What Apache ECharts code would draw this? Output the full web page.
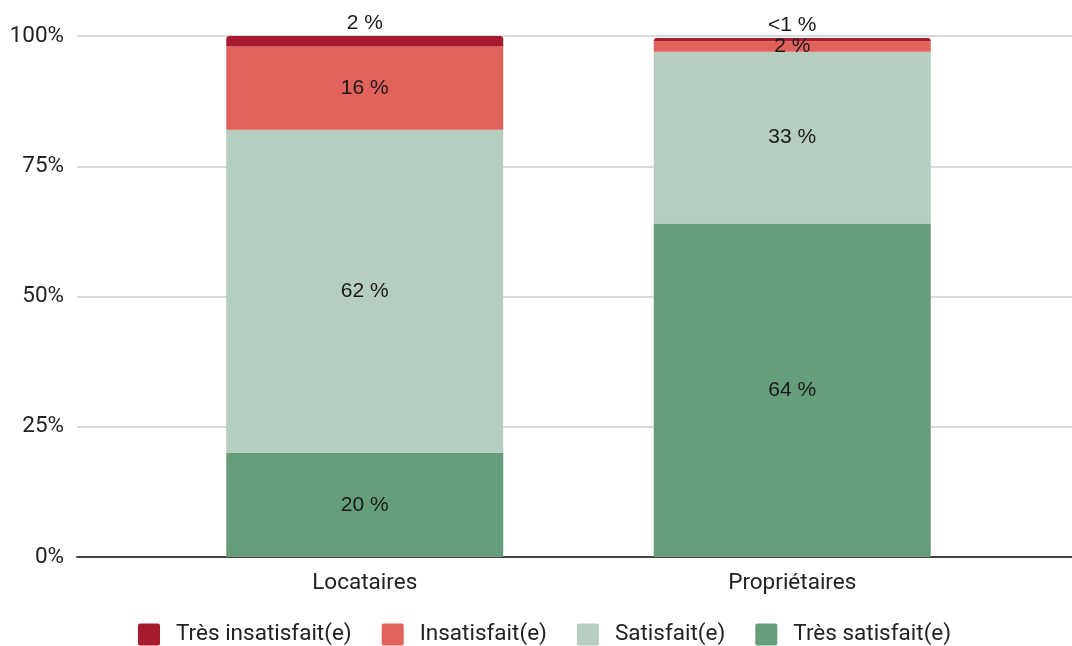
<!DOCTYPE html>
<html>
<head>
<meta charset="utf-8">
<script src="https://cdn.jsdelivr.net/npm/echarts@6/dist/echarts.min.js"></script>
<style>
  html, body { margin: 0; padding: 0; background: #fff; }
  #chart { width: 1072px; height: 646px; }
</style>
</head>
<body>
<div id="chart"></div>
<script>
// Satisfaction by housing status (percent of respondents)
const categories = ['Locataires', 'Propriétaires'];
const seriesNames = ['Très insatisfait(e)', 'Insatisfait(e)', 'Satisfait(e)', 'Très satisfait(e)'];
const tresSatisfait = [20, 64];
const satisfait = [62, 33];
const insatisfait = [16, 2];
const tresInsatisfait = [2, 0.6];
const yTicks = [0, 25, 50, 75, 100];

const colors = {
  tresInsatisfait: '#A61C2E',
  insatisfait: '#E0625A',
  satisfait: '#B6CEC0',
  tresSatisfait: '#669E7C'
};

const axisFont = 'Roboto';
const labelFont = '"Liberation Sans", Arial, sans-serif';
const axisSize = 22.5;
const labelSize = 21;

// square legend swatch with slightly softened corners
const swatch = 'path://M2,0H20A2,2,0,0,1,22,2V20A2,2,0,0,1,20,22H2A2,2,0,0,1,0,20V2A2,2,0,0,1,2,0Z';

function pctLabel(p) {
  return p.value < 1 ? '<1 %' : Math.round(p.value) + ' %';
}

function barSeries(name, data, color, opts) {
  return Object.assign({
    name: name,
    type: 'bar',
    stack: 'total',
    xAxisIndex: 1,
    yAxisIndex: 1,
    barWidth: 277,
    data: data,
    itemStyle: { color: color },
    label: {
      show: true,
      position: 'inside',
      formatter: pctLabel,
      color: '#1a1a1a',
      fontFamily: labelFont,
      fontSize: labelSize
    },
    emphasis: { disabled: true }
  }, opts || {});
}

const chart = echarts.init(document.getElementById('chart'), null, { renderer: 'canvas' });

chart.setOption({
  animation: false,
  backgroundColor: '#fff',
  legend: {
    data: seriesNames,
    left: 138,
    top: 623,
    padding: 0,
    itemWidth: 22,
    itemHeight: 22,
    itemGap: 30,
    icon: swatch,
    textStyle: {
      fontFamily: axisFont,
      fontSize: axisSize,
      color: '#222',
      padding: [0, 0, 0, 11]
    }
  },
  grid: [
    // full-width grid carrying the value axis and its gridlines
    { left: 77, right: 0, top: 36, bottom: 89, containLabel: false },
    // narrower grid holding the two category bars
    { left: 151, width: 855, top: 36, bottom: 89, containLabel: false }
  ],
  xAxis: [
    {
      gridIndex: 0,
      type: 'category',
      data: [''],
      axisLine: { show: true, lineStyle: { color: '#444', width: 2 } },
      axisTick: { show: false },
      axisLabel: { show: false },
      splitLine: { show: false }
    },
    {
      gridIndex: 1,
      type: 'category',
      data: categories,
      axisLine: { show: false },
      axisTick: { show: false },
      axisLabel: {
        margin: 15,
        fontFamily: axisFont,
        fontSize: axisSize,
        color: '#222'
      }
    }
  ],
  yAxis: [
    {
      gridIndex: 0,
      type: 'value',
      min: yTicks[0],
      max: yTicks[yTicks.length - 1],
      interval: 25,
      axisLine: { show: false },
      axisTick: { show: false },
      axisLabel: {
        formatter: '{value}%',
        margin: 13,
        fontFamily: axisFont,
        fontSize: axisSize,
        color: '#222'
      },
      splitLine: { show: true, lineStyle: { color: '#cccccc', width: 1.5 } }
    },
    {
      gridIndex: 1,
      type: 'value',
      min: yTicks[0],
      max: yTicks[yTicks.length - 1],
      interval: 25,
      show: false,
      splitLine: { show: false }
    }
  ],
  series: [
    barSeries(seriesNames[3], tresSatisfait, colors.tresSatisfait),
    barSeries(seriesNames[2], satisfait, colors.satisfait),
    barSeries(seriesNames[1], insatisfait, colors.insatisfait),
    barSeries(seriesNames[0], tresInsatisfait, colors.tresInsatisfait, {
      itemStyle: { color: colors.tresInsatisfait, borderRadius: [3, 3, 0, 0] },
      label: {
        show: true,
        position: 'top',
        distance: 2,
        formatter: pctLabel,
        color: '#1a1a1a',
        fontFamily: labelFont,
        fontSize: labelSize
      }
    })
  ]
});
</script>
</body>
</html>
